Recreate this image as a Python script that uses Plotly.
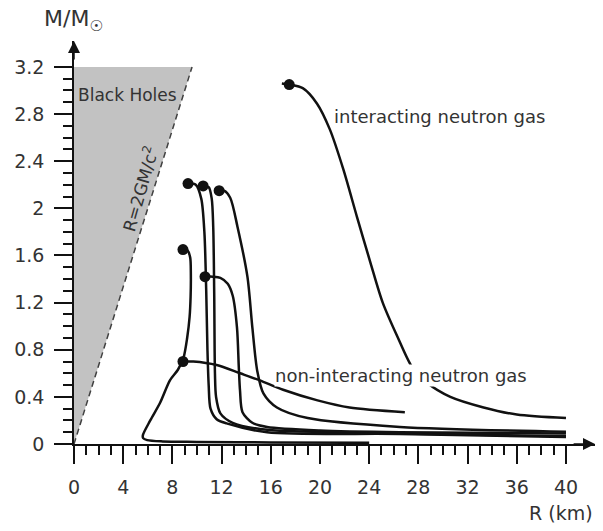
import plotly.graph_objects as go

# ---------------- data ----------------
# black-hole region and Schwarzschild line R = 2GM/c^2
bh_R = [0, 0, 9.6, 0]
bh_M = [0, 3.2, 3.2, 0]
rs_R = [0, 9.6]
rs_M = [0, 3.2]

# mass-radius curves (R in km, M in solar masses)
A_R = [8.86, 9.25, 9.45, 9.5, 9.48, 9.4, 9.2, 8.9, 8.45, 7.8, 7.0, 6.2, 5.6, 5.62, 5.95, 7.2, 10.0, 16.0, 24.0]
A_M = [1.65, 1.64, 1.58, 1.45, 1.25, 1.08, 0.90, 0.73, 0.63, 0.54, 0.35, 0.20, 0.075, 0.05, 0.033, 0.022, 0.018, 0.013, 0.01]

B_R = [8.86, 9.7, 11.6, 13.5, 15.1, 17.0, 19.8, 22.4, 26.9]
B_M = [0.70, 0.70, 0.67, 0.60, 0.54, 0.46, 0.37, 0.31, 0.27]

C_R = [9.27, 9.9, 10.35, 10.6, 10.75, 10.85, 10.95, 11.1, 11.6, 12.4, 15.7, 26.5, 40.0]
C_M = [2.21, 2.20, 2.08, 1.80, 1.30, 0.80, 0.50, 0.30, 0.21, 0.175, 0.10, 0.085, 0.06]

D_R = [10.5, 10.95, 11.2, 11.32, 11.4, 11.46, 11.55, 11.9, 12.9, 15.7, 26.5, 40.0]
D_M = [2.19, 2.18, 2.08, 1.84, 1.28, 0.60, 0.40, 0.26, 0.18, 0.12, 0.09, 0.065]

E_R = [11.8, 12.2, 12.7, 13.3, 14.1, 14.5, 14.9, 15.4, 16.5, 19.0, 26.5, 40.0]
E_M = [2.15, 2.15, 2.09, 1.84, 1.42, 0.99, 0.62, 0.43, 0.31, 0.22, 0.145, 0.105]

F_R = [10.65, 11.3, 11.9, 12.5, 12.9, 13.25, 13.4, 13.5, 13.7, 14.5, 15.7, 20.0, 26.5, 40.0]
F_M = [1.42, 1.42, 1.41, 1.36, 1.26, 0.99, 0.65, 0.45, 0.27, 0.18, 0.145, 0.115, 0.10, 0.09]

G_R = [16.9, 17.5, 18.6, 19.75, 20.8, 21.9, 23.0, 24.1, 25.1, 26.3, 27.5, 28.7, 30.6, 33.3, 36.0, 40.0]
G_M = [3.06, 3.05, 3.02, 2.89, 2.67, 2.33, 1.93, 1.54, 1.20, 0.91, 0.65, 0.52, 0.40, 0.31, 0.25, 0.22]

# maximum-mass / end points (filled dots)
dot_R = [8.86, 8.86, 9.27, 10.5, 11.8, 10.65, 17.5]
dot_M = [1.65, 0.70, 2.21, 2.19, 2.15, 1.42, 3.05]

# ticks
x_ticks = [0, 4, 8, 12, 16, 20, 24, 28, 32, 36, 40]
x_ticklabels = ["0", "4", "8", "12", "16", "20", "24", "28", "32", "36", "40"]
y_ticks = [0, 0.4, 0.8, 1.2, 1.6, 2.0, 2.4, 2.8, 3.2]
y_ticklabels = ["0", "0.4", "0.8", "1.2", "1.6", "2", "2.4", "2.8", "3.2"]
x_minor = [v for v in range(1, 41) if v % 4 != 0]
y_minor = [round(v * 0.1, 1) for v in range(1, 33) if v % 4 != 0]

FONT = "DejaVu Sans"
TXT = "#333333"

fig = go.Figure()

fig.add_trace(go.Scatter(x=bh_R, y=bh_M, mode="lines", fill="toself",
                         fillcolor="#c2c2c2", line=dict(width=0, color="#c2c2c2"),
                         hoverinfo="skip", showlegend=False))
fig.add_trace(go.Scatter(x=rs_R, y=rs_M, mode="lines",
                         line=dict(color="#404040", width=1.5, dash="6px,4px"),
                         showlegend=False))

for R, M in [(A_R, A_M), (B_R, B_M), (C_R, C_M), (D_R, D_M),
             (E_R, E_M), (F_R, F_M), (G_R, G_M)]:
    fig.add_trace(go.Scatter(x=R, y=M, mode="lines",
                             line=dict(color="#111111", width=2.5, shape="spline", smoothing=0.8),
                             showlegend=False))

fig.add_trace(go.Scatter(x=dot_R, y=dot_M, mode="markers",
                         marker=dict(color="#111111", size=11),
                         showlegend=False))

fig.update_layout(
    width=603, height=531,
    margin=dict(l=74, r=8, t=41, b=87),
    paper_bgcolor="white", plot_bgcolor="white",
    font=dict(family=FONT, color=TXT),
    xaxis=dict(range=[0, 42.36], tickvals=x_ticks, ticktext=x_ticklabels,
               ticks="outside", ticklen=18, tickwidth=1.5, tickcolor="#111",
               showline=True, linecolor="#111", linewidth=1.5,
               showgrid=False, zeroline=False,
               tickfont=dict(size=19, color=TXT), ticklabelstandoff=7,
               minor=dict(tickvals=x_minor, ticks="outside", ticklen=9,
                          tickwidth=1.5, tickcolor="#111", showgrid=False)),
    yaxis=dict(range=[0, 3.42], tickvals=y_ticks, ticktext=y_ticklabels,
               ticks="outside", ticklen=18, tickwidth=1.5, tickcolor="#111",
               showline=True, linecolor="#111", linewidth=1.5,
               showgrid=False, zeroline=False,
               tickfont=dict(size=19, color=TXT), ticklabelstandoff=6,
               minor=dict(tickvals=y_minor, ticks="outside", ticklen=9,
                          tickwidth=1.5, tickcolor="#111", showgrid=False)),
)

annotations = [
    # axis arrows
    dict(x=0, y=3.42, ax=0, ay=3.25, xref="x", yref="y", axref="x", ayref="y",
         text="", showarrow=True, arrowhead=2, arrowsize=1.6, arrowwidth=1.5, arrowcolor="#111"),
    dict(x=42.36, y=0, ax=40.5, ay=0, xref="x", yref="y", axref="x", ayref="y",
         text="", showarrow=True, arrowhead=2, arrowsize=1.6, arrowwidth=1.5, arrowcolor="#111"),
    # axis titles
    dict(x=-0.0614, y=1.052, xref="paper", yref="paper", xanchor="left", yanchor="middle",
         text="M/M<sub>☉</sub>", showarrow=False, font=dict(size=22, color=TXT)),
    dict(x=1.0, y=-0.171, xref="paper", yref="paper", xanchor="right", yanchor="middle",
         text="R (km)", showarrow=False, font=dict(size=19, color=TXT)),
    # labels
    dict(x=0.2, y=2.96, xref="x", yref="y", xanchor="left", yanchor="middle",
         text="Black Holes", showarrow=False, font=dict(size=17, color=TXT)),
    dict(x=5.33, y=2.165, xref="x", yref="y", xanchor="center", yanchor="middle",
         text="R=2GM/c<sup>2</sup>", textangle=-74, showarrow=False,
         font=dict(size=17, color=TXT)),
    dict(x=21.0, y=2.78, xref="x", yref="y", xanchor="left", yanchor="middle",
         text="interacting neutron gas", showarrow=False, font=dict(size=18, color=TXT)),
    dict(x=16.3, y=0.585, xref="x", yref="y", xanchor="left", yanchor="middle",
         text="non-interacting neutron gas", showarrow=False, bgcolor="white", borderpad=0,
         font=dict(size=18, color=TXT)),
]
fig.update_layout(annotations=annotations)

fig.write_html("out.html")
